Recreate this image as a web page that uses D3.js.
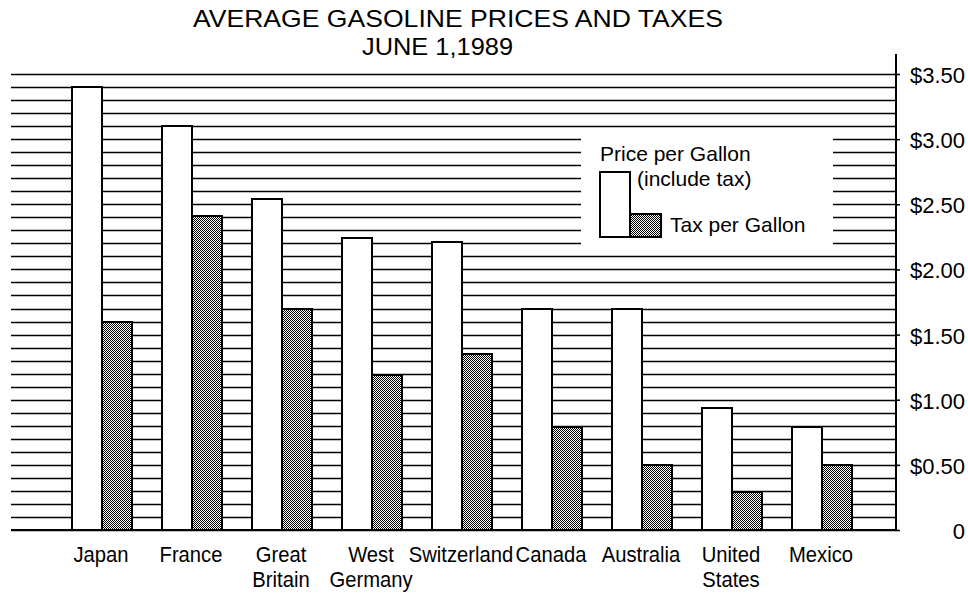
<!DOCTYPE html>
<html>
<head>
<meta charset="utf-8">
<script src="https://cdn.jsdelivr.net/npm/d3@7"></script>
<style>
  html, body { margin: 0; padding: 0; background: #fff; }
  svg { display: block; }
  text { font-family: "Liberation Sans", Arial, sans-serif; fill: #000; }
</style>
</head>
<body>
<svg id="chart" width="968" height="593"></svg>
<script>
// ---- data ----
const categories = ["Japan", "France", "Great Britain", "West Germany", "Switzerland", "Canada", "Australia", "United States", "Mexico"];
const categoryLines = [["Japan"], ["France"], ["Great", "Britain"], ["West", "Germany"], ["Switzerland"], ["Canada"], ["Australia"], ["United", "States"], ["Mexico"]];
const priceValues = [3.40, 3.10, 2.54, 2.24, 2.21, 1.70, 1.70, 0.94, 0.79];
const taxValues   = [1.60, 2.41, 1.70, 1.19, 1.35, 0.79, 0.50, 0.29, 0.50];
const seriesNames = ["Price per Gallon", "Tax per Gallon"];
const tickValues = [0, 0.5, 1.0, 1.5, 2.0, 2.5, 3.0, 3.5];
const tickLabels = ["0", "$0.50", "$1.00", "$1.50", "$2.00", "$2.50", "$3.00", "$3.50"];
const titleLines = ["AVERAGE GASOLINE PRICES AND TAXES", "JUNE 1,1989"];

// ---- layout ----
const svg = d3.select("#chart");
const plotLeft = 11, plotRight = 896, baseY = 530, topY = 74;

const y = d3.scaleLinear().domain([0, 3.5]).range([baseY, topY]);
const x = d3.scaleBand().domain(categories).range([57, 867]).paddingInner(1 / 3).paddingOuter(1 / 6);
const xs = d3.scaleBand().domain(["price", "tax"]).range([0, x.bandwidth()]);

// hatch (dither) pattern
const defs = svg.append("defs");
const pat = defs.append("pattern").attr("id", "dither").attr("patternUnits", "userSpaceOnUse")
  .attr("width", 2).attr("height", 2);
pat.append("rect").attr("width", 2).attr("height", 2).attr("fill", "#fff");
pat.append("rect").attr("x", 0).attr("y", 0).attr("width", 1).attr("height", 1).attr("fill", "#000");
pat.append("rect").attr("x", 1).attr("y", 1).attr("width", 1).attr("height", 1).attr("fill", "#000");

// title
svg.append("text").attr("x", 193).attr("y", 27).attr("font-size", 24)
  .attr("textLength", 530).attr("lengthAdjust", "spacingAndGlyphs").text(titleLines[0]);
svg.append("text").attr("x", 362).attr("y", 55).attr("font-size", 24)
  .attr("textLength", 151).attr("lengthAdjust", "spacingAndGlyphs").text(titleLines[1]);

// gridlines every 0.1
const gridVals = y.ticks(35);
svg.append("g").selectAll("line").data(gridVals).join("line")
  .attr("x1", plotLeft).attr("x2", plotRight)
  .attr("y1", d => Math.round(y(d)) + 0.5).attr("y2", d => Math.round(y(d)) + 0.5)
  .attr("stroke", "#000").attr("stroke-width", 1.6);

// legend white box covering gridlines
svg.append("rect").attr("x", 581).attr("y", 129).attr("width", 252).attr("height", 121).attr("fill", "#fff");

// bars
const groups = svg.append("g").selectAll("g").data(categories).join("g")
  .attr("transform", d => `translate(${x(d)},0)`);

groups.append("rect")
  .attr("x", xs("price")).attr("width", xs.bandwidth())
  .attr("y", (d, i) => Math.round(y(priceValues[i])))
  .attr("height", (d, i) => baseY - Math.round(y(priceValues[i])))
  .attr("fill", "#fff").attr("stroke", "#000").attr("stroke-width", 2).attr("shape-rendering", "crispEdges");

groups.append("rect")
  .attr("x", xs("tax")).attr("width", xs.bandwidth())
  .attr("y", (d, i) => Math.round(y(taxValues[i])))
  .attr("height", (d, i) => baseY - Math.round(y(taxValues[i])))
  .attr("fill", "url(#dither)").attr("stroke", "#000").attr("stroke-width", 2).attr("shape-rendering", "crispEdges");

// baseline
svg.append("line").attr("x1", plotLeft).attr("x2", plotRight).attr("y1", baseY).attr("y2", baseY)
  .attr("stroke", "#000").attr("stroke-width", 2);

// right axis
const axis = d3.axisRight(y).tickValues(tickValues).tickSize(4).tickFormat("");
const ag = svg.append("g").attr("transform", `translate(${plotRight},0)`).call(axis);
ag.select(".domain").remove();
ag.selectAll(".tick line").attr("stroke", "#000").attr("stroke-width", 1.6);
svg.append("line").attr("x1", plotRight).attr("x2", plotRight).attr("y1", 54).attr("y2", baseY + 1)
  .attr("stroke", "#000").attr("stroke-width", 2);

svg.append("g").selectAll("text").data(tickValues).join("text")
  .attr("x", 965).attr("y", d => y(d) + 9)
  .attr("text-anchor", "end").attr("font-size", 22)
  .text((d, i) => tickLabels[i]);

// category labels (slightly condensed, like the original face)
const lab = svg.append("g").selectAll("text").data(categories).join("text")
  .attr("text-anchor", "middle").attr("font-size", 22)
  .attr("transform", d => `translate(${x(d) + x.bandwidth() / 2 - 1},562) scale(0.92,1)`);
lab.selectAll("tspan").data((d, i) => categoryLines[i]).join("tspan")
  .attr("x", 0)
  .attr("dy", (d, j) => j === 0 ? 0 : 25)
  .text(d => d);

// legend
const lg = svg.append("g");
lg.append("text").attr("x", 600).attr("y", 161).attr("font-size", 21).text(seriesNames[0]);
lg.append("text").attr("x", 637).attr("y", 186).attr("font-size", 21).text("(include tax)");
lg.append("rect").attr("x", 600).attr("y", 172).attr("width", 30).attr("height", 65)
  .attr("fill", "#fff").attr("stroke", "#000").attr("stroke-width", 2).attr("shape-rendering", "crispEdges");
lg.append("rect").attr("x", 630).attr("y", 214).attr("width", 31).attr("height", 23)
  .attr("fill", "url(#dither)").attr("stroke", "#000").attr("stroke-width", 2).attr("shape-rendering", "crispEdges");
lg.append("text").attr("x", 670).attr("y", 232).attr("font-size", 21).text(seriesNames[1]);
</script>
</body>
</html>
